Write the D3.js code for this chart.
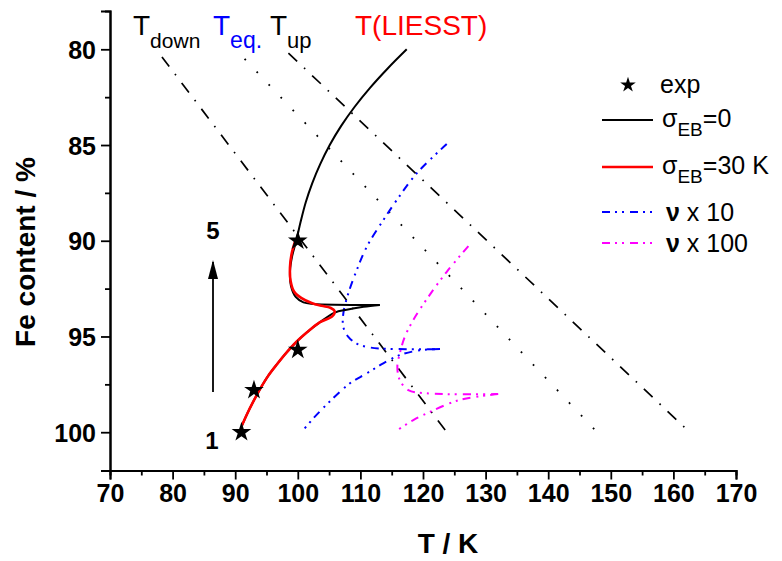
<!DOCTYPE html>
<html>
<head>
<meta charset="utf-8">
<script src="https://cdn.jsdelivr.net/npm/d3@7"></script>
<style>
  html, body { margin: 0; padding: 0; background: #fff; }
  svg { display: block; font-family: Arial, "Liberation Sans", sans-serif; }
</style>
</head>
<body>
<svg id="chart" width="782" height="561"></svg>
<script>
// Axis ticks
const xTicks = [70, 80, 90, 100, 110, 120, 130, 140, 150, 160, 170];
const xMinor = [75, 85, 95, 105, 115, 125, 135, 145, 155, 165];
const yTicks = [80, 85, 90, 95, 100];
const yMinor = [82.5, 87.5, 92.5, 97.5];

// Experimental points [T (K), Fe content (%)]
const expPoints = [[91, 100], [93, 97.8], [100, 95.7], [100, 90]];

// Straight reference lines
const tDown = [[78.3, 80.4], [123.8, 100]];
const tEq = [[91.5, 80.5], [147.8, 100]];
const tUp = [[98.5, 80.2], [162.6, 100]];

// sigma_EB = 0 : upper branch (ends at the spike tip) and lower branch
const sigma0Upper = [[117.4, 80.0], [114.36, 81.0], [111.57, 82.0], [109.09, 83.0], [106.93, 84.0],
  [105.1, 85.0], [103.58, 86.0], [102.3, 87.0], [101.26, 88.0], [100.46, 89.0], [99.75, 90.0],
  [99.1, 90.8], [98.75, 91.6], [98.9, 92.35], [99.7, 92.95], [100.9, 93.22], [102.5, 93.3],
  [113.1, 93.35]];
const sigma0Lower = [[113.1, 93.35], [110.5, 93.45], [107.8, 93.6], [105.9, 93.75], [103.55, 94.25],
  [101.47, 94.78], [99.71, 95.3], [98.12, 95.87], [96.68, 96.45], [95.24, 97.07], [93.96, 97.75],
  [92.84, 98.43], [91.88, 99.06], [91.09, 99.64]];

// sigma_EB = 30 K
const sigma30 = [[99.6, 90.0], [99.0, 90.7], [98.75, 91.4], [98.85, 92.1], [99.4, 92.65],
  [100.6, 93.0], [102.2, 93.25], [103.8, 93.4], [105.2, 93.5], [105.9, 93.7], [105.5, 93.95],
  [103.55, 94.25], [101.47, 94.78], [99.71, 95.3], [98.12, 95.87], [96.68, 96.45], [95.24, 97.07],
  [93.96, 97.75], [92.84, 98.43], [91.88, 99.06], [91.09, 99.64]];

// nu x 10
const nu10Upper = [[123.79, 84.95], [118.99, 86.48], [115.8, 87.88], [113.66, 88.92], [111.01, 90.32],
  [109.41, 91.54], [108.07, 92.75], [107.27, 93.8], [107.27, 94.5], [108.07, 95.02], [109.41, 95.37],
  [111.01, 95.54], [113.13, 95.63], [122.72, 95.66]];
const nu10Lower = [[122.72, 95.66], [119.5, 95.72], [116.3, 95.97], [113.65, 96.4], [111.0, 96.93],
  [108.3, 97.45], [105.1, 98.4], [102.5, 99.27], [100.6, 100.0]];

// nu x 100
const nu100Upper = [[127.25, 90.28], [123.8, 91.62], [120.85, 92.93], [118.45, 94.14], [117.1, 95.01],
  [116.3, 95.88], [115.9, 96.58], [116.3, 97.28], [117.65, 97.8], [120.6, 97.97], [132.0, 98.01]];
const nu100Lower = [[132.0, 98.01], [129.1, 98.12], [125.4, 98.36], [121.1, 98.94], [118.45, 99.37],
  [115.5, 99.98]];

const svg = d3.select("#chart");
const x = d3.scaleLinear().domain([70, 170]).range([110, 736]);
const y = d3.scaleLinear().domain([78, 102]).range([11, 470.5]);

const line = d3.line().x(d => x(d[0])).y(d => y(d[1]));
const curve = d3.line().x(d => x(d[0])).y(d => y(d[1])).curve(d3.curveCatmullRom.alpha(0.5));

// Axes
const tickFont = "bold 25px Arial, 'Liberation Sans', sans-serif";
const gx = svg.append("g").attr("transform", `translate(0,${y(102)})`);
gx.call(d3.axisBottom(x).tickValues(xTicks).tickSize(9).tickPadding(5).tickFormat(d3.format("d")));
const gxm = svg.append("g").attr("transform", `translate(0,${y(102)})`);
gxm.call(d3.axisBottom(x).tickValues(xMinor).tickSize(5).tickFormat(""));
const gy = svg.append("g").attr("transform", `translate(${x(70)},0)`);
gy.call(d3.axisLeft(y).tickValues(yTicks).tickSize(9).tickPadding(5).tickFormat(d3.format("d")));
const gym = svg.append("g").attr("transform", `translate(${x(70)},0)`);
gym.call(d3.axisLeft(y).tickValues(yMinor).tickSize(5).tickFormat(""));

[gx, gxm, gy, gym].forEach(g => {
  g.select(".domain").attr("stroke", "#000").attr("stroke-width", 2);
  g.selectAll(".tick line").attr("stroke", "#000").attr("stroke-width", 1.8);
  g.selectAll(".tick text").style("font", tickFont).attr("fill", "#000");
});
gy.selectAll(".tick text").attr("dy", "0.36em");

svg.append("text").attr("x", 448).attr("y", 553).attr("text-anchor", "middle")
  .style("font", "bold 28px Arial, 'Liberation Sans', sans-serif").text("T / K");
svg.append("text").attr("transform", "translate(35,252) rotate(-90)").attr("text-anchor", "middle")
  .style("font", "bold 28px Arial, 'Liberation Sans', sans-serif").text("Fe content / %");

// Reference lines
const dashDot = "12,9.5,1.6,9.5";
svg.append("path").datum(tDown).attr("d", line).attr("fill", "none").attr("stroke", "#000")
  .attr("stroke-width", 1.7).attr("stroke-dasharray", dashDot);
svg.append("path").datum(tUp).attr("d", line).attr("fill", "none").attr("stroke", "#000")
  .attr("stroke-width", 1.7).attr("stroke-dasharray", dashDot);
svg.append("path").datum(tEq).attr("d", line).attr("fill", "none").attr("stroke", "#000")
  .attr("stroke-width", 1.8).attr("stroke-dasharray", "1.8,15.7");

// nu curves
const dashDotDot = "8,5,2,5,2,6";
[[nu10Upper, "#0000ff"], [nu10Lower, "#0000ff"], [nu100Upper, "#ff00ff"], [nu100Lower, "#ff00ff"]]
  .forEach(([d, c]) => {
    svg.append("path").datum(d).attr("d", curve).attr("fill", "none").attr("stroke", c)
      .attr("stroke-width", 2).attr("stroke-dasharray", dashDotDot);
  });

// sigma curves
[sigma0Upper, sigma0Lower].forEach(d => {
  svg.append("path").datum(d).attr("d", curve).attr("fill", "none").attr("stroke", "#000")
    .attr("stroke-width", 2);
});
svg.append("path").datum(sigma30).attr("d", curve).attr("fill", "none").attr("stroke", "#ff0000")
  .attr("stroke-width", 2.6);

// Experimental points
const star = d3.symbol().type(d3.symbolStar);
svg.selectAll(".exp").data(expPoints).join("path").attr("class", "exp")
  .attr("transform", d => `translate(${x(d[0])},${y(d[1])})`)
  .attr("d", star.size(120)()).attr("fill", "#000");

// Arrow 1 -> 5
svg.append("line").attr("x1", 213).attr("x2", 213).attr("y1", 392).attr("y2", 262)
  .attr("stroke", "#000").attr("stroke-width", 1.8);
svg.append("path").attr("d", "M208,279 L213,260 L218,279 Z").attr("fill", "#000");
svg.append("text").attr("x", 213).attr("y", 239).attr("text-anchor", "middle")
  .style("font", "bold 24px Arial, 'Liberation Sans', sans-serif").text("5");
svg.append("text").attr("x", 212).attr("y", 449).attr("text-anchor", "middle")
  .style("font", "bold 24px Arial, 'Liberation Sans', sans-serif").text("1");

// Line labels at the top
function subLabel(xPos, color, sub, size) {
  const t = svg.append("text").attr("x", xPos).attr("y", 35).attr("fill", color)
    .style("font-size", "28px");
  t.append("tspan").text("T");
  t.append("tspan").attr("dy", 13).style("font-size", size + "px").text(sub);
}
subLabel(133, "#000", "down", 21);
subLabel(213, "#0000ff", "eq.", 23);
subLabel(270, "#000", "up", 22);
svg.append("text").attr("x", 355).attr("y", 35).attr("fill", "#ff0000").style("font-size", "28px")
  .text("T(LIESST)");

// Legend
const legend = svg.append("g");
legend.append("path").attr("transform", "translate(628,85)").attr("d", star.size(75)()).attr("fill", "#000");
legend.append("text").attr("x", 660).attr("y", 93).style("font-size", "25px").text("exp");

const legendLines = [
  {y: 120, color: "#000", dash: null, w: 2},
  {y: 167, color: "#ff0000", dash: null, w: 2.6},
  {y: 212, color: "#0000ff", dash: dashDotDot, w: 2},
  {y: 243, color: "#ff00ff", dash: dashDotDot, w: 2}
];
legendLines.forEach(l => {
  legend.append("line").attr("x1", 602).attr("x2", 653).attr("y1", l.y).attr("y2", l.y)
    .attr("stroke", l.color).attr("stroke-width", l.w).attr("stroke-dasharray", l.dash);
});

function sigmaLabel(yPos, rest) {
  const t = legend.append("text").attr("x", 662).attr("y", yPos).style("font-size", "25px");
  t.append("tspan").text("σ");
  t.append("tspan").attr("dy", 9).style("font-size", "19px").text("EB");
  t.append("tspan").attr("dy", -9).text(rest);
}
sigmaLabel(127, "=0");
sigmaLabel(174, "=30 K");

function nuLabel(yPos, rest) {
  const t = legend.append("text").attr("x", 666).attr("y", yPos).style("font-size", "25px");
  t.append("tspan").style("font-weight", "bold").text("ν");
  t.append("tspan").text(rest);
}
nuLabel(221, "  x 10");
nuLabel(252, "  x 100");
</script>
</body>
</html>
